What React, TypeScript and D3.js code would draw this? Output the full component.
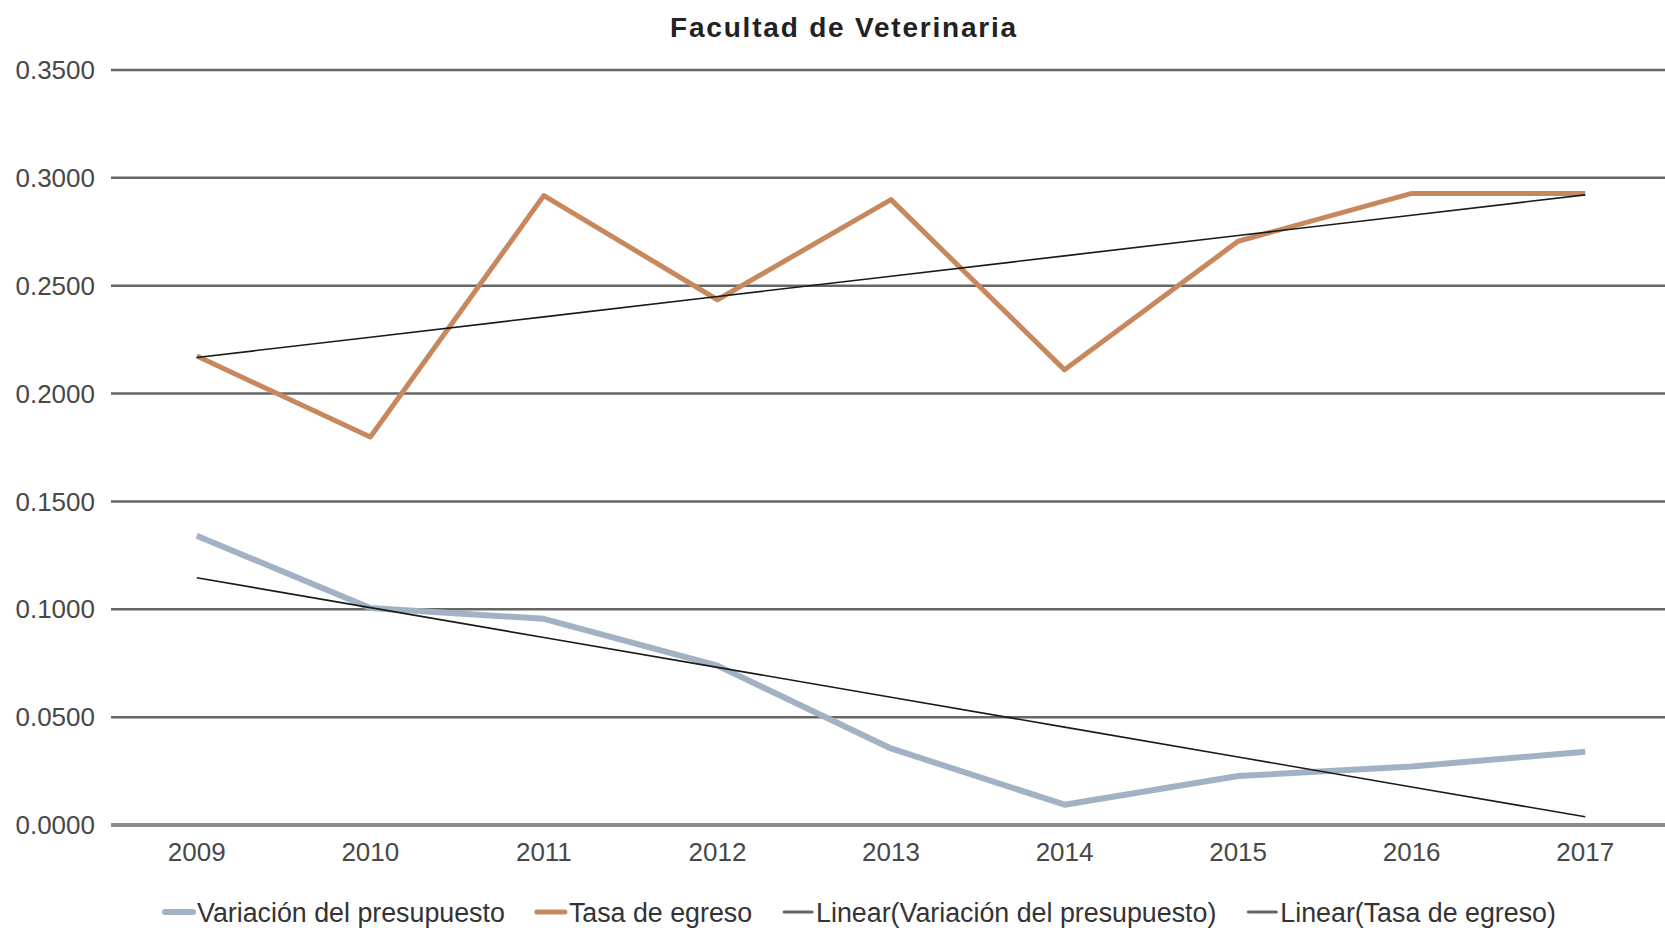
import React from 'react';
import * as d3 from 'd3';

const years = ['2009', '2010', '2011', '2012', '2013', '2014', '2015', '2016', '2017'];
const variacion = [0.1341, 0.1006, 0.0956, 0.0739, 0.0355, 0.0094, 0.0227, 0.0271, 0.034];
const tasa = [0.2174, 0.1799, 0.2918, 0.2435, 0.2899, 0.211, 0.2706, 0.2928, 0.2928];
const yTicks = [0, 0.05, 0.1, 0.15, 0.2, 0.25, 0.3, 0.35];
const legendLabels = [
  'Variación del presupuesto',
  'Tasa de egreso',
  'Linear(Variación del presupuesto)',
  'Linear(Tasa de egreso)'
];

const FONT = "'Liberation Sans', Arial, sans-serif";
const W = 1665;
const H = 931;

// least squares fit over the category index, like a spreadsheet trendline
function linearFit(values: number[]): number[] {
  const n = values.length;
  const mx = (n - 1) / 2;
  const my = d3.mean(values) || 0;
  let num = 0;
  let den = 0;
  values.forEach((v, i) => {
    num += (i - mx) * (v - my);
    den += (i - mx) * (i - mx);
  });
  const slope = num / den;
  return values.map((_, i) => my + slope * (i - mx));
}

const App: React.FC = () => {
  const svgRef = React.useRef<SVGSVGElement>(null);

  React.useEffect(() => {
    if (!svgRef.current) return;
    const svg = d3.select(svgRef.current);
    svg.selectAll('*').remove();

    const left = 110;
    const right = 1672;
    const top = 70;
    const bottom = 825;

    const x = d3.scalePoint<string>().domain(years).range([left, right]).padding(0.5);
    const y = d3.scaleLinear().domain([0, 0.35]).range([bottom, top]);

    svg.append('rect').attr('width', W).attr('height', H).attr('fill', '#fff');

    // title
    svg.append('text')
      .attr('x', 844)
      .attr('y', 37)
      .attr('text-anchor', 'middle')
      .attr('font-family', FONT)
      .attr('font-size', 28)
      .attr('font-weight', 'bold')
      .attr('letter-spacing', 1.8)
      .attr('fill', '#222')
      .text('Facultad de Veterinaria');

    // grid lines
    svg.append('g')
      .selectAll('line')
      .data(yTicks)
      .enter().append('line')
      .attr('x1', left + 1)
      .attr('x2', W)
      .attr('y1', d => y(d))
      .attr('y2', d => y(d))
      .attr('stroke', d => (d === 0 ? '#8c8c8c' : '#666'))
      .attr('stroke-width', d => (d === 0 ? 4 : 2.5));

    // y labels
    svg.append('g')
      .selectAll('text')
      .data(yTicks)
      .enter().append('text')
      .attr('x', 95)
      .attr('y', d => y(d))
      .attr('dy', '0.35em')
      .attr('text-anchor', 'end')
      .attr('font-family', FONT)
      .attr('font-size', 26)
      .attr('fill', '#484848')
      .text(d => d.toFixed(4));

    // x labels
    svg.append('g')
      .selectAll('text')
      .data(years)
      .enter().append('text')
      .attr('x', d => x(d) || 0)
      .attr('y', 861)
      .attr('text-anchor', 'middle')
      .attr('font-family', FONT)
      .attr('font-size', 26)
      .attr('fill', '#484848')
      .text(d => d);

    const line = d3.line<number>()
      .x((_, i) => x(years[i]) || 0)
      .y(d => y(d));

    const series = [
      { values: variacion, color: '#a2b2c4', width: 6 },
      { values: tasa, color: '#c8885e', width: 5 }
    ];

    series.forEach(s => {
      svg.append('path')
        .datum(s.values)
        .attr('fill', 'none')
        .attr('stroke', s.color)
        .attr('stroke-width', s.width)
        .attr('stroke-linejoin', 'round')
        .attr('d', line);
    });

    // trend lines
    [variacion, tasa].forEach(v => {
      svg.append('path')
        .datum(linearFit(v))
        .attr('fill', 'none')
        .attr('stroke', '#1a1a1a')
        .attr('stroke-width', 1.6)
        .attr('d', line);
    });

    // legend
    const swatches = [
      { color: '#a2b2c4', width: 6 },
      { color: '#c8885e', width: 5 },
      { color: '#666', width: 3 },
      { color: '#666', width: 3 }
    ];
    const legend = svg.append('g');
    let cx = 165;
    const ly = 913;
    legendLabels.forEach((label, i) => {
      legend.append('line')
        .attr('x1', cx)
        .attr('x2', cx + 28)
        .attr('y1', ly - 1)
        .attr('y2', ly - 1)
        .attr('stroke', swatches[i].color)
        .attr('stroke-width', swatches[i].width)
        .attr('stroke-linecap', 'round');
      const t = legend.append('text')
        .attr('x', cx + 32)
        .attr('y', ly)
        .attr('dy', '0.35em')
        .attr('font-family', FONT)
        .attr('font-size', 26.8)
        .attr('fill', '#333')
        .text(label);
      const w = (t.node() as SVGTextElement).getComputedTextLength();
      cx += 32 + w + 32;
    });
  }, []);

  return (
    <svg
      ref={svgRef}
      width={W}
      height={H}
      style={{ position: 'absolute', left: 0, top: 0 }}
    />
  );
};

export default App;
